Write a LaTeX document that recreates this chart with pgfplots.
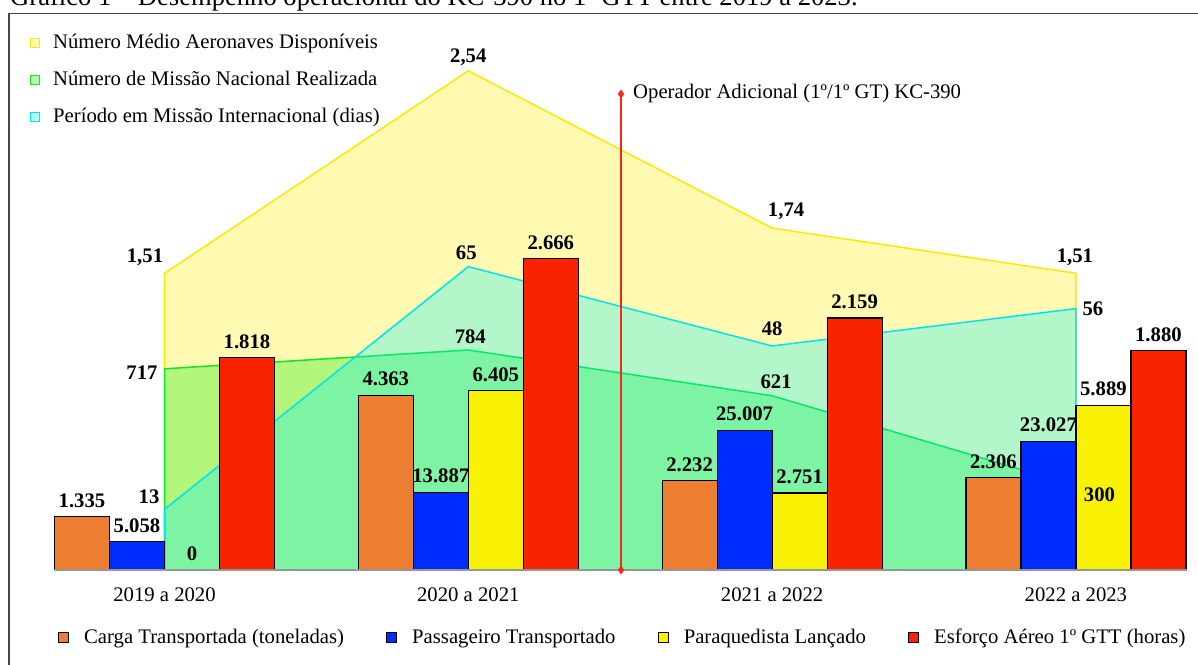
\documentclass[border=0pt]{standalone}
\usepackage{pgfplots}
\pgfplotsset{compat=1.18}
\usepackage{pgfplotstable}
\usepackage{fontspec}
\setmainfont{Liberation Serif}

\definecolor{cOr}{RGB}{237,125,49}
\definecolor{cBl}{RGB}{0,45,255}
\definecolor{cYe}{RGB}{248,242,0}
\definecolor{cRe}{RGB}{250,35,0}
\definecolor{lY}{RGB}{255,232,0}
\definecolor{lG}{RGB}{10,230,40}
\definecolor{lC}{RGB}{0,228,240}
\definecolor{fY}{RGB}{255,249,178}
\definecolor{fG}{RGB}{0,240,0}
\definecolor{fC}{RGB}{0,240,255}
\definecolor{frameC}{RGB}{70,70,70}
\definecolor{opL}{RGB}{245,40,30}
\definecolor{baseC}{RGB}{150,150,150}

\newcommand\fs{\fontsize{20.7}{24}\selectfont}

% bar series (x = category centre)
\pgfplotstableread{
x v lab
164.5 1335 1.335
468.3 4363 4.363
772.1 2232 2.232
1075.9 2306 2.306
}\carga
\pgfplotstableread{
x v lab
164.5 5058 5.058
468.3 13887 13.887
772.1 25007 25.007
1075.9 23027 23.027
}\passag
\pgfplotstableread{
x v lab
164.5 0 0
468.3 6405 6.405
772.1 2751 2.751
1075.9 5889 5.889
}\paraq
\pgfplotstableread{
x v lab
164.5 1818 1.818
468.3 2666 2.666
772.1 2159 2.159
1075.9 1880 1.880
}\esforco
% area series
\pgfplotstableread{
x v lab dx dy
164.5 1.51 1,51 -19.5 16
468.3 2.54 2,54 0 14
772.1 1.74 1,74 14 17
1075.9 1.51 1,51 -1 16
}\aer
\pgfplotstableread{
x v lab dx dy
164.5 717 717 -22.5 -4
468.3 784 784 2 13.3
772.1 621 621 4 14.3
1075.9 300 300 23.6 -9
}\mis
\pgfplotstableread{
x v lab dx dy
164.5 13 13 -15.5 12.6
468.3 65 65 -2 14
772.1 48 48 0 17
1075.9 56 56 17 0
}\dias

\pgfplotsset{base/.style={width=1198pt,height=664pt,scale only axis,
  xmin=0,xmax=1198,ymin=-94,ymax=570,clip=false},
  arealab/.style={draw=none, forget plot, nodes near coords, point meta=explicit symbolic,
  visualization depends on={\thisrow{dx}\as\dx},
  visualization depends on={\thisrow{dy}\as\dy},
  nodes near coords style={font=\fs\bfseries, anchor=center, inner sep=0pt, xshift=\dx, yshift=\dy}},
  barlab/.style={draw=none, forget plot, nodes near coords, point meta=explicit symbolic,
  nodes near coords style={font=\fs\bfseries, anchor=south, inner sep=0pt, yshift=9pt}},
}

\begin{document}
\begin{tikzpicture}
\begin{axis}[base, name=A, hide axis,
  legend style={at={(0.02504,0.9488)}, anchor=north west, draw=none, fill=none,
    inner sep=0pt, outer sep=0pt, row sep=17pt, font=\fs,
    nodes={inner sep=0pt, anchor=base west, text height=15pt, text depth=5pt},
    /tikz/every odd column/.append style={column sep=13pt}},
  legend cell align=left,
  legend image code/.code={\draw[#1, line width=1.2pt] (0pt,1.5pt) rectangle (9pt,10.5pt);},
]
\addplot[fill=fY, draw=lY, line width=1.5pt] table[x=x, y expr=\thisrow{v}*196.5] {\aer} \closedcycle;
\addlegendentry{Número Médio Aeronaves Disponíveis}
\addplot[fill=fG, fill opacity=0.3, draw=lG, line width=1.5pt] table[x=x, y expr=\thisrow{v}*0.2806] {\mis} \closedcycle;
\addlegendentry{Número de Missão Nacional Realizada}
\addplot[fill=fC, fill opacity=0.3, draw=lC, line width=1.5pt] table[x=x, y expr=\thisrow{v}*4.667] {\dias} \closedcycle;
\addlegendentry{Período em Missão Internacional (dias)}
\draw[frameC, line width=1.5pt] (axis cs:9,-100) -- (axis cs:9,556.5) -- (axis cs:1205,556.5);
\node[anchor=base west, font=\fontsize{26.6}{30}\selectfont, inner sep=0pt] at (axis cs:10,564)
  {Gráfico 1 – Desempenho operacional do KC-390 no 1º GTT entre 2019 a 2023.};
\end{axis}

\begin{axis}[base, at={(A.south west)}, anchor=south west,
  axis x line=middle, axis y line=none, axis line style={draw=none}, ytick=\empty,
  xtick={164.5,468.3,772.1,1075.9},
  xticklabels={2019 a 2020,2020 a 2021,2021 a 2022,2022 a 2023},
  major tick length=0pt,
  xticklabel style={font=\fs, anchor=north, inner sep=0pt, yshift=-18pt},
  legend columns=4,
  legend style={at={(0.0484,0.0535)}, anchor=north west, draw=none, fill=none,
    inner sep=0pt, outer sep=0pt, font=\fs,
    nodes={inner sep=0pt, anchor=base west, text height=15pt, text depth=5pt},
    /tikz/every odd column/.append style={column sep=15pt},
    /tikz/every even column/.append style={column sep=42pt}},
  legend cell align=left,
]
\addplot[ybar, bar width=55, bar shift=0pt, fill=cOr, draw=black, line width=1.2pt,
  legend image code/.code={\draw[fill=cOr, draw=black, line width=1.2pt] (0pt,1pt) rectangle (10pt,11pt);}]
  table[x expr=\thisrow{x}-82.5, y expr=\thisrow{v}/25] {\carga};
\addlegendentry{Carga Transportada (toneladas)}
\addplot[ybar, bar width=55, bar shift=0pt, fill=cBl, draw=black, line width=1.2pt,
  legend image code/.code={\draw[fill=cBl, draw=black, line width=1.2pt] (0pt,1pt) rectangle (10pt,11pt);}]
  table[x expr=\thisrow{x}-27.5, y expr=\thisrow{v}/178.8] {\passag};
\addlegendentry{Passageiro Transportado}
\addplot[ybar, bar width=55, bar shift=0pt, fill=cYe, draw=black, line width=1.2pt,
  legend image code/.code={\draw[fill=cYe, draw=black, line width=1.2pt] (0pt,1pt) rectangle (10pt,11pt);}]
  table[x expr=\thisrow{x}+27.5, y expr=\thisrow{v}/35.75] {\paraq};
\addlegendentry{Paraquedista Lançado}
\addplot[ybar, bar width=55, bar shift=0pt, fill=cRe, draw=black, line width=1.2pt,
  legend image code/.code={\draw[fill=cRe, draw=black, line width=1.2pt] (0pt,1pt) rectangle (10pt,11pt);}]
  table[x expr=\thisrow{x}+82.5, y expr=\thisrow{v}/8.565] {\esforco};
\addlegendentry{Esforço Aéreo 1º GTT (horas)}

\draw[baseC, line width=1.5pt] (axis cs:54,0) -- (axis cs:1187,0);

\addplot[opL, line width=1.5pt, mark=diamond*, mark size=4pt,
  mark options={fill=opL, draw=opL, line width=0.4pt}, forget plot]
  coordinates {(621,0) (621,476)};
\node[anchor=west, font=\fs, inner sep=0pt] at (axis cs:633,476) {Operador Adicional (1º/1º GT) KC-390};

% bar labels
\addplot[barlab] table[x expr=\thisrow{x}-82.5, y expr=\thisrow{v}/25, meta=lab] {\carga};
\addplot[barlab] table[x expr=\thisrow{x}-27.5, y expr=\thisrow{v}/178.8, meta=lab] {\passag};
\addplot[barlab] table[x expr=\thisrow{x}+27.5, y expr=\thisrow{v}/35.75, meta=lab] {\paraq};
\addplot[barlab] table[x expr=\thisrow{x}+82.5, y expr=\thisrow{v}/8.565, meta=lab] {\esforco};

% area labels
\addplot[arealab] table[x=x, y expr=\thisrow{v}*196.5, meta=lab] {\aer};
\addplot[arealab] table[x=x, y expr=\thisrow{v}*0.2806, meta=lab] {\mis};
\addplot[arealab] table[x=x, y expr=\thisrow{v}*4.667, meta=lab] {\dias};
\end{axis}
\pgfresetboundingbox
\path (A.south west) rectangle (A.north east);
\end{tikzpicture}
\end{document}
